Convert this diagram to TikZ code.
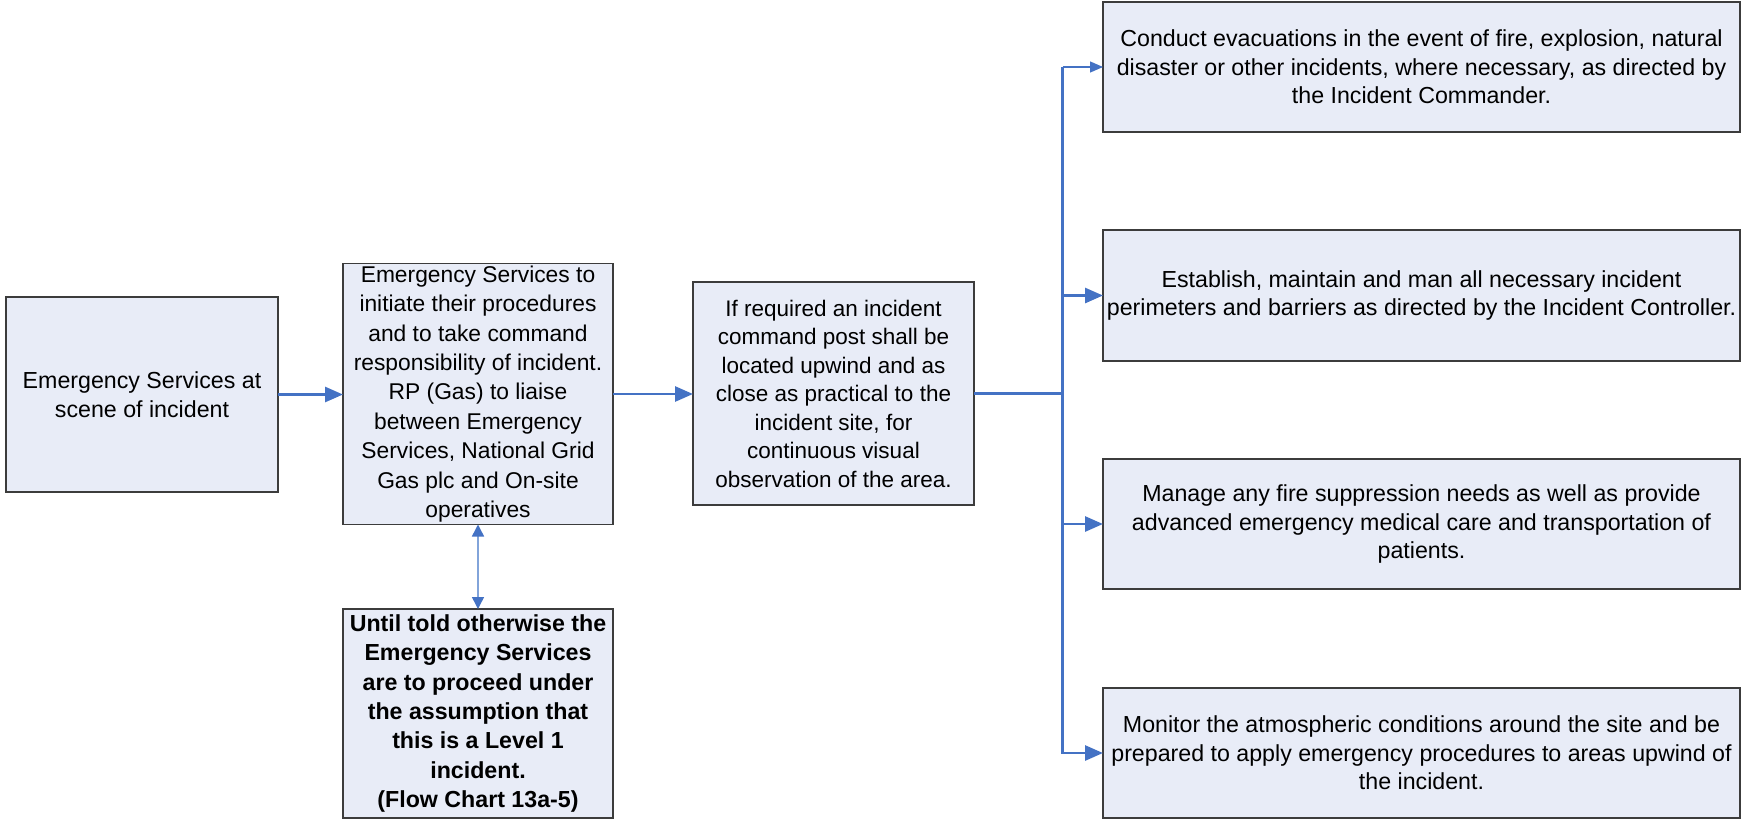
\documentclass[tikz,border=0pt]{standalone}
\usepackage{fontspec}
\setmainfont{Liberation Sans}
\usetikzlibrary{arrows.meta}

\definecolor{boxfill}{RGB}{232,236,247}
\definecolor{boxline}{RGB}{60,60,60}
\definecolor{flowblue}{RGB}{68,114,196}
\definecolor{lightblue}{RGB}{130,164,218}

\tikzset{
  flowbox/.style={draw=boxline, fill=boxfill, line width=1.3pt, inner sep=0pt,
    outer sep=0pt, align=center, font=\fontsize{23.2}{28.5}\selectfont},
  flowarrow/.style={draw=flowblue, line width=2.8pt,
    -{Triangle[length=18pt,width=15pt]}},
  flowline/.style={draw=flowblue, line width=2.8pt},
  thinarrow/.style={draw=flowblue, line width=1.3pt,
    -{Triangle[length=13pt,width=11pt]}},
  linkarrow/.style={draw=lightblue, line width=1.5pt,
    {Triangle[length=12pt,width=12pt,color=flowblue]}-{Triangle[length=12pt,width=12pt,color=flowblue]}}
}

\begin{document}
\begin{tikzpicture}[x=1pt,y=-1pt]
\useasboundingbox (0,0) rectangle (1742,819);

% left column of the flow
\node[flowbox, minimum width=272pt, minimum height=195pt] (scene) at (142,394.5)
  {Emergency Services at\\scene of incident};
\node[flowbox, minimum width=270pt, minimum height=261pt,
  font=\fontsize{22.8}{29.4}\selectfont] (command) at (478,394)
  {Emergency Services to\\initiate their procedures\\and to take command\\responsibility of incident.\\RP (Gas) to liaise\\between Emergency\\Services, National Grid\\Gas plc and On-site\\operatives};
\node[flowbox, minimum width=270pt, minimum height=209pt,
  font=\fontsize{23.2}{29.3}\selectfont\bfseries] (level) at (478,713.5)
  {Until told otherwise the\\Emergency Services\\are to proceed under\\the assumption that\\this is a Level 1\\incident.\\(Flow Chart 13a-5)};
\node[flowbox, minimum width=281pt, minimum height=223pt,
  font=\fontsize{22.5}{28.5}\selectfont] (post) at (833.5,393.5)
  {If required an incident\\command post shall be\\located upwind and as\\close as practical to the\\incident site, for\\continuous visual\\observation of the area.};

% right column of actions
\node[flowbox, minimum width=637pt, minimum height=130pt] (evac) at (1421.5,67)
  {Conduct evacuations in the event of fire, explosion, natural\\disaster or other incidents, where necessary, as directed by\\the Incident Commander.};
\node[flowbox, minimum width=637pt, minimum height=131pt] (perim) at (1421.5,295.5)
  {Establish, maintain and man all necessary incident\\perimeters and barriers as directed by the Incident Controller.};
\node[flowbox, minimum width=637pt, minimum height=130pt] (fire) at (1421.5,524)
  {Manage any fire suppression needs as well as provide\\advanced emergency medical care and transportation of\\patients.};
\node[flowbox, minimum width=637pt, minimum height=130pt] (monitor) at (1421.5,753)
  {Monitor the atmospheric conditions around the site and be\\prepared to apply emergency procedures to areas upwind of\\the incident.};

% connectors
\draw[flowarrow] (scene.east) -- (scene.east -| command.west);
\draw[flowarrow] (command.east) -- (command.east -| post.west);
\draw[linkarrow] (command.south) -- (level.north);

\coordinate (trunk) at (1062.5,393.5);
\draw[flowline] (post.east) -- (trunk);
\draw[flowline] (trunk) -- (trunk |- evac.west);
\draw[thinarrow] (trunk |- evac.west) -- (evac.west);
\draw[flowarrow] (trunk) |- (perim.west);
\draw[flowarrow] (trunk) |- (fire.west);
\draw[flowarrow] (trunk) |- (monitor.west);
\end{tikzpicture}
\end{document}
